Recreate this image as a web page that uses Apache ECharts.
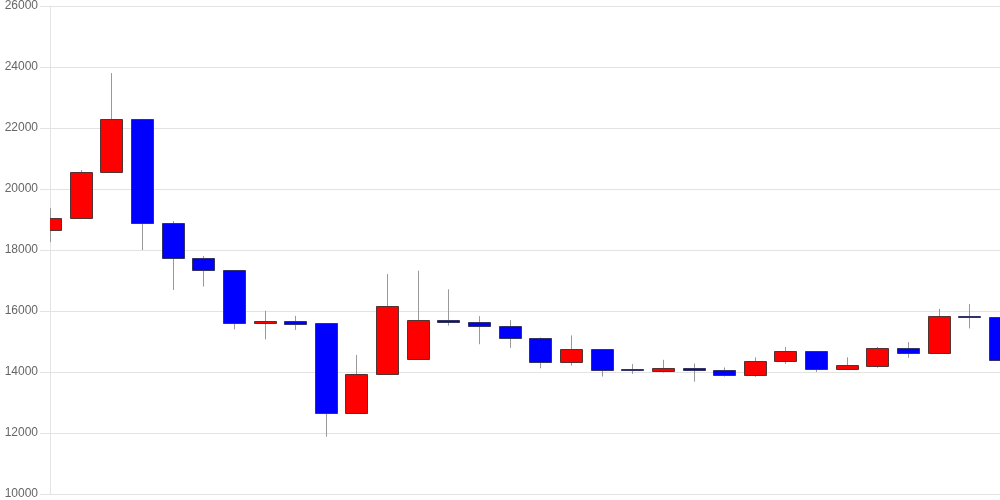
<!DOCTYPE html>
<html>
<head>
<meta charset="utf-8">
<script src="https://cdn.jsdelivr.net/npm/echarts@6/dist/echarts.min.js"></script>
<style>html,body{margin:0;padding:0;background:#fff}#c{width:1000px;height:500px}</style>
</head>
<body>
<div id="c"></div>
<script>
var categories = ['1','2','3','4','5','6','7','8','9','10','11','12','13','14','15','16','17','18','19','20','21','22','23','24','25','26','27','28','29','30','31','32'];
var openValues  = [18650,19050,20560,22300,18900,17740,17340,15600,15660,15600,12670,13930,14420,15700,15650,15520,15130,14330,14740,14090,14040,14140,14080,13910,14350,14690,14110,14210,14790,14620,15840,15800];
var closeValues = [19050,20560,22300,18890,17740,17340,15600,15660,15590,12670,13930,16150,15690,15640,15510,15130,14330,14740,14080,14050,14140,14060,13910,14360,14690,14110,14220,14790,14620,15840,15800,14380];
var lowValues   = [18260,19050,20560,18000,16690,16800,15400,15070,15380,11880,12670,13930,14420,15520,14910,14790,14120,14210,13850,13940,13980,13680,13850,13840,14270,14000,14110,14140,14470,14620,15430,13880];
var highValues  = [19380,20620,23800,22300,18950,17800,17340,16010,15840,15600,14560,17210,17320,16710,15830,15700,15130,15200,14740,14260,14400,14280,14150,14480,14820,14690,14480,14820,14980,16070,16230,15870];
var yTicks = [10000,12000,14000,16000,18000,20000,22000,24000,26000];

var data = [];
for (var i = 0; i < categories.length; i++) {
  data.push([i, openValues[i], closeValues[i], lowValues[i], highValues[i]]);
}

function renderItem(params, api) {
  var idx = api.value(0);
  var o = api.value(1), c = api.value(2), lo = api.value(3), hi = api.value(4);
  var pHi = api.coord([idx, hi]);
  var pLo = api.coord([idx, lo]);
  var pO = api.coord([idx, o]);
  var pC = api.coord([idx, c]);
  var w = 22;
  var x = Math.round(pHi[0]);
  var top = Math.min(pO[1], pC[1]);
  var bot = Math.max(pO[1], pC[1]);
  var up = c >= o;
  return {
    type: 'group',
    children: [
      {type: 'line', shape: {x1: x + 0.5, y1: pHi[1], x2: x + 0.5, y2: pLo[1]},
       style: {stroke: '#999', lineWidth: 1}},
      {type: 'rect', shape: {x: x - w / 2 + 0.5, y: Math.round(top) + 0.5, width: w, height: Math.max(Math.round(bot) - Math.round(top), 1)},
       style: {fill: up ? '#ff0000' : '#0000ff', stroke: up ? '#553333' : '#333366', lineWidth: 1}}
    ]
  };
}

var chart = echarts.init(document.getElementById('c'));
chart.setOption({
  animation: false,
  grid: {left: 50, right: 0, top: 6, bottom: 6},
  xAxis: {
    type: 'category', data: categories, boundaryGap: false,
    axisLine: {show: false}, axisTick: {show: false}, axisLabel: {show: false}, splitLine: {show: false}
  },
  yAxis: {
    type: 'value', min: yTicks[0], max: yTicks[yTicks.length-1], interval: 2000,
    axisLine: {show: true, lineStyle: {color: '#e3e3e3'}},
    axisTick: {show: true, length: 10, lineStyle: {color: '#e3e3e3'}},
    axisLabel: {color: '#666', fontSize: 12, fontFamily: 'Liberation Sans, Arial, sans-serif', margin: 12,
      formatter: function (v) { return String(v); }},
    splitLine: {lineStyle: {color: '#e3e3e3'}}
  },
  series: [
    {
      type: 'custom', renderItem: renderItem, data: data, clip: true,
      encode: {x: 0, y: [1, 2, 3, 4]}
    }
  ]
});
</script>
</body>
</html>
